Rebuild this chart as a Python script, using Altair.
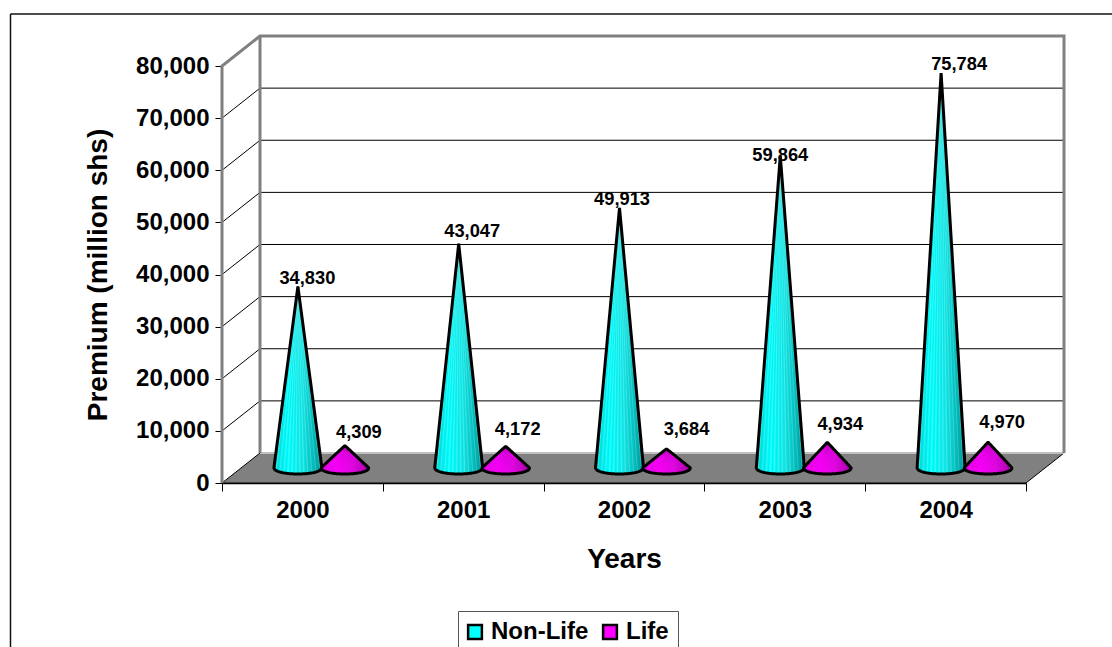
import math
import altair as alt
import pandas as pd

years = ["2000", "2001", "2002", "2003", "2004"]
non_life = [34830, 43047, 49913, 59864, 75784]
life = [4309, 4172, 3684, 4934, 4970]

# Layout of the drawing, in pixels
LEFT, TOP, PLOT_W, PLOT_H = 222, 66, 804, 417
PAGE_W, PAGE_H = 1112, 647
DEPTH_X_PX, DEPTH_Y_PX = 38, 30
Y_MAX = 80000
FONT = "Liberation Sans"

px_x = len(years) / PLOT_W       # category units per pixel
px_y = Y_MAX / PLOT_H            # value units per pixel
dx = DEPTH_X_PX * px_x
dy = DEPTH_Y_PX * px_y

CONE_SHIFT = 23.5 * px_x
CONE_RX = 24 * px_x
CONE_RY = 6 * px_y

x_enc = alt.X("x:Q", scale=alt.Scale(domain=[0, len(years)], nice=False, zero=False))
y_enc = alt.Y("y:Q", scale=alt.Scale(domain=[0, Y_MAX], nice=False))

# Label nudges from each cone tip, in pixels (dx, dy)
nudge_non_life = [(9.5, -7.5), (13.5, -12), (2.5, -8), (0, 0), (18, -8)]
nudge_life = [(14, -12.5), (12, -16), (20, -18.5), (13, -17.5), (14, -19)]


def cone_tables(values, shift, series):
    outline, stripes = [], []
    samples = [i / 24 - 1 for i in range(49)]
    for i, value in enumerate(values):
        cx = i + 0.5 + dx / 2 + shift
        base = dy / 2
        tip = value + dy / 2
        for t in samples:
            bottom = base - CONE_RY * math.sqrt(max(0.0, 1 - t * t))
            outline.append({"x": cx + CONE_RX * t, "y": base + (tip - base) * (1 - abs(t)),
                            "y2": bottom, "cone": f"{series}{i}"})
        for k in range(1, 24):
            t = k / 12 - 1
            stripes.append({"x": cx + CONE_RX * t,
                            "y": base - CONE_RY * math.sqrt(1 - t * t),
                            "x2": cx, "y2": tip,
                            "shade": "a" if k % 2 else "b"})
    return pd.DataFrame(outline), pd.DataFrame(stripes)


def gradient(stops):
    return alt.Gradient(
        gradient="linear", x1=0, x2=1, y1=0, y2=0,
        stops=[alt.GradientStop(color=c, offset=o) for o, c in stops],
    )


def cone_layers(values, shift, series, stops, stripe_range, stripe_opacity):
    outline, stripes = cone_tables(values, shift, series)
    fill = alt.Chart(outline).mark_area(fill=gradient(stops)).encode(
        x=x_enc, y=y_enc, y2="y2:Q", detail="cone:N")
    rays = alt.Chart(stripes).mark_rule(strokeWidth=1, opacity=stripe_opacity).encode(
        x=x_enc, y=y_enc, x2="x2:Q", y2="y2:Q",
        color=alt.Color("shade:N", scale=alt.Scale(domain=["a", "b"], range=stripe_range), legend=None))
    edge = alt.Chart(outline).mark_area(
        fillOpacity=0, stroke="#000000", strokeWidth=3, strokeJoin="bevel"
    ).encode(x=x_enc, y=y_enc, y2="y2:Q", detail="cone:N")
    return [fill, rays, edge]


def label_layer(values, shift, nudges):
    rows = []
    for i, value in enumerate(values):
        ndx, ndy = nudges[i]
        rows.append({"x": i + 0.5 + dx / 2 + shift + ndx * px_x,
                     "y": value + dy / 2 - ndy * px_y,
                     "label": f"{value:,}"})
    return alt.Chart(pd.DataFrame(rows)).mark_text(
        font=FONT, fontWeight="bold", fontSize=18.3, color="#000000", baseline="middle"
    ).encode(x=x_enc, y=y_enc, text="label:N")


# Back wall and frame of the box
n = len(years)
back_wall = alt.Chart(pd.DataFrame({"x": [dx], "x2": [n + dx], "y": [dy], "y2": [Y_MAX + dy]})).mark_rect(
    fill="#ffffff").encode(x=x_enc, x2="x2:Q", y=y_enc, y2="y2:Q")

floor = alt.Chart(pd.DataFrame({
    "x": [0, dx, n, n + dx], "y": [0, dy, dy, dy], "y2": [0, 0, 0, dy]
})).mark_area(fill="#808080", stroke="#000000", strokeWidth=1).encode(x=x_enc, y=y_enc, y2="y2:Q")

grid_rows = []
for v in range(10000, Y_MAX, 10000):
    grid_rows += [{"x": 0, "y": v, "g": v}, {"x": dx, "y": v + dy, "g": v}, {"x": n + dx, "y": v + dy, "g": v}]
grid = alt.Chart(pd.DataFrame(grid_rows)).mark_line(color="#000000", strokeWidth=1).encode(
    x=x_enc, y=y_enc, detail="g:N", order="x:Q")

frame_rows = [
    {"x": 0, "y": 0, "f": "side"}, {"x": 0, "y": Y_MAX, "f": "side"},
    {"x": dx, "y": Y_MAX + dy, "f": "side"}, {"x": n + dx, "y": Y_MAX + dy, "f": "side"},
    {"x": n + dx, "y": dy, "f": "side"},
    {"x": dx, "y": Y_MAX + dy, "f": "inner"}, {"x": dx, "y": dy, "f": "inner"},
]
frame = alt.Chart(pd.DataFrame(frame_rows)).mark_line(color="#808080", strokeWidth=3, strokeJoin="miter").encode(
    x=x_enc, y=y_enc, detail="f:N", order=alt.Order("row:Q")
).transform_window(row="row_number()", groupby=["f"])

floor_back = alt.Chart(pd.DataFrame({"x": [dx, n + dx], "y": [dy, dy]})).mark_line(
    color="#c0c0c0", strokeWidth=2).encode(x=x_enc, y=y_enc)

# Axes
axis_layer = alt.Chart(pd.DataFrame({"x": [0], "y": [0]})).mark_point(opacity=0).encode(
    x=alt.X("x:Q", scale=alt.Scale(domain=[0, n], nice=False, zero=False),
            axis=alt.Axis(
                values=list(range(n + 1)),
                labelExpr="(" + str(years) + ")[datum.value] || ''",
                labelOffset=PLOT_W / n / 2,
                labelFont=FONT, labelFontWeight="bold", labelFontSize=24, labelColor="#000000",
                labelPadding=7, labelFlush=False, labelOverlap=False,
                tickSize=8, tickColor="#000000", tickWidth=1,
                domainColor="#000000", domainWidth=1.5, grid=False,
                title="Years", titleFont=FONT, titleFontWeight="bold", titleFontSize=28,
                titleColor="#000000", titlePadding=23)),
    y=alt.Y("y:Q", scale=alt.Scale(domain=[0, Y_MAX], nice=False),
            axis=alt.Axis(
                values=list(range(0, Y_MAX + 1, 10000)),
                labelExpr="format(datum.value, ',')",
                labelFont=FONT, labelFontWeight="bold", labelFontSize=24, labelColor="#000000",
                labelPadding=6, labelFlush=False, labelOverlap=False,
                tickSize=7, tickColor="#000000", tickWidth=1,
                domain=False, grid=False,
                title="Premium (million shs)", titleFont=FONT, titleFontWeight="bold",
                titleFontSize=28, titleColor="#000000", titlePadding=23)),
)

# Series key: small squares tucked behind the cone bases carry the colour legend
key_rows = pd.DataFrame({
    "x": [0.5 + dx / 2 - CONE_SHIFT, 0.5 + dx / 2 + CONE_SHIFT],
    "y": [dy / 2, dy / 2],
    "series": ["Non-Life", "Life"],
})
key = alt.Chart(key_rows).mark_square(size=20, opacity=1).encode(
    x=x_enc, y=y_enc,
    color=alt.Color("series:N",
                    scale=alt.Scale(domain=["Non-Life", "Life"], range=["#00ffff", "#ff00ff"]),
                    legend=alt.Legend(
                        orient="none", legendX=458 - LEFT, legendY=611 - TOP, direction="horizontal",
                        title=None, symbolType="square", symbolSize=190, symbolStrokeColor="#000000",
                        symbolStrokeWidth=2.5, symbolOffset=-4, labelFont=FONT, labelFontWeight="bold",
                        labelFontSize=24, labelColor="#000000", strokeColor="#555555", padding=9,
                        columnPadding=9, labelOffset=4, labelLimit=200)),
)

# Outer chart border, open on the right and at the bottom
border_v = alt.Chart(pd.DataFrame({"a": [0]})).mark_rule(color="#111111", strokeWidth=1.5).encode(
    x=alt.value(10.5 - LEFT), y=alt.value(14 - TOP), y2=alt.value(PAGE_H - TOP))
border_h = alt.Chart(pd.DataFrame({"a": [0]})).mark_rule(color="#111111", strokeWidth=1.5).encode(
    y=alt.value(14 - TOP), x=alt.value(10.5 - LEFT), x2=alt.value(PAGE_W - LEFT))

cyan_stops = [(0, "#00d8d8"), (0.3, "#00ffff"), (0.6, "#14e6e6"), (0.85, "#00b4b4"), (1, "#008c8c")]
magenta_stops = [(0, "#e600e6"), (0.35, "#ff00ff"), (0.65, "#e808e8"), (1, "#a800a8")]

layers = [border_v, border_h, axis_layer, back_wall, grid, floor, floor_back, frame, key]
layers += cone_layers(non_life, -CONE_SHIFT, "n", cyan_stops, ["#ffffff", "#00c8c8"], 0.2)
layers += cone_layers(life, CONE_SHIFT, "l", magenta_stops, ["#700070", "#a000a0"], 0.14)
layers += [label_layer(non_life, -CONE_SHIFT, nudge_non_life), label_layer(life, CONE_SHIFT, nudge_life)]

chart = alt.layer(*layers).resolve_scale(color="independent").properties(
    width=PLOT_W, height=PLOT_H, background="#ffffff",
    padding={"left": LEFT, "top": TOP, "right": PAGE_W - LEFT - PLOT_W, "bottom": PAGE_H - TOP - PLOT_H},
    autosize=alt.AutoSizeParams(type="none"),
).configure_view(stroke=None)

chart.save("out.html", embed_options={"renderer": "svg", "actions": False})
